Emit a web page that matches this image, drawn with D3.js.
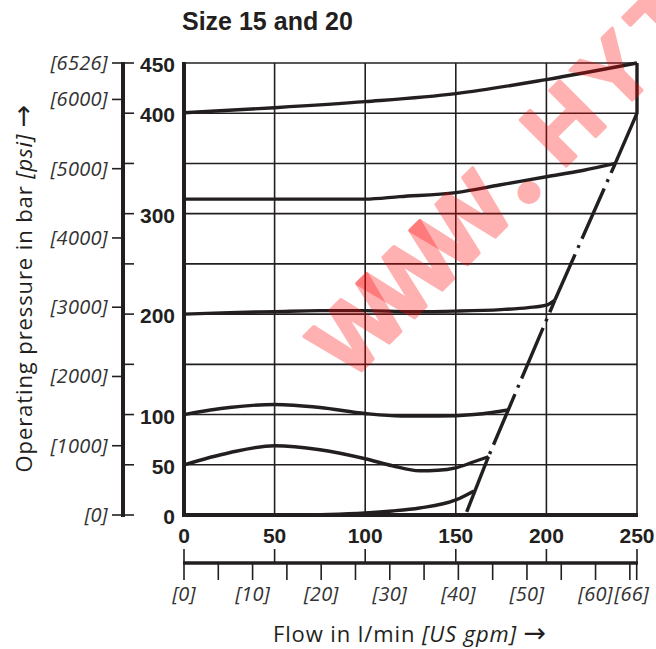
<!DOCTYPE html>
<html><head><meta charset="utf-8">
<script src="https://cdn.jsdelivr.net/npm/d3@7"></script>
<style>body{margin:0;background:#fff}svg{display:block}</style>
</head><body>
<svg id="chart" width="656" height="649"></svg>
<script>
const flowTicks = [0, 50, 100, 150, 200, 250];
const pressureTicks = [0, 50, 100, 150, 200, 250, 300, 350, 400, 450];
const pressureLabels = [0, 50, 100, 200, 300, 400, 450];
const psiTicks = [0, 1000, 2000, 3000, 4000, 5000, 6000, 6526];
const gpmTicks = [0, 5, 10, 15, 20, 25, 30, 35, 40, 45, 50, 55, 60, 65, 66];
const gpmLabels = [0, 10, 20, 30, 40, 50, 60, 66];

const curve0 = [[0,0],[60,0],[80,0.5],[100,2],[115,4],[130,7],[150,15],[160,24]];
const curve50 = [[0,50],[25,62],[50,69],[75,65],[100,56],[115,49],[130,44],[140,44.5],[150,47],[160,53],[168,58]];
const curve100 = [[0,100],[25,107],[50,110],[75,107],[100,101],[120,98.5],[140,98.5],[160,100],[170,102],[179,104.5]];
const curve200 = [[0,200],[25,201.5],[50,202.5],[75,203.5],[100,203.5],[125,202.5],[150,203],[175,204.5],[190,206.5],[200,209],[204.7,214]];
const curve315 = [[0,314.5],[100,314.5],[119,317],[150,321],[174,328.5],[200,336.8],[220,343],[238,350]];
const curve400 = [[0,400.5],[50,405.5],[100,411.5],[150,419.5],[200,433.5],[250,450]];
const limitSolidLow = [[156,3],[168,58]];
const limitDashLow = [[168,58],[204.7,214]];
const limitDashHigh = [[204.7,214],[238,350]];
const limitSolidHigh = [[238,350],[250,400],[250,450]];
const watermarkChars = ["W", "W", "W", "\u25CF", "H", "Y", "T"];

const INK = "#231f20";
const LPM_PER_GPM = 3.785411784;
const svg = d3.select("#chart");
const x = d3.scaleLinear().domain([0, 250]).range([184, 637]);
const y = d3.scaleLinear().domain([0, 450]).range([515, 63]);
const yPsi = d3.scaleLinear().domain([0, 6526]).range([515, 63]);
const xGpm = d3.scaleLinear().domain([0, 250 / LPM_PER_GPM]).range([184, 637]);

const BOLD = "'Liberation Sans', Arial, sans-serif";
const REG = "'Open Sans', 'Noto Sans', sans-serif";
const ARROW = "'DejaVu Sans', sans-serif";

// title
svg.append("text").attr("x", 182).attr("y", 30)
  .attr("font-family", BOLD).attr("font-weight", "bold").attr("font-size", 25)
  .attr("fill", INK).text("Size 15 and 20");

// grid
const grid = svg.append("g").attr("stroke", INK).attr("stroke-width", 1.6);
grid.selectAll(".v").data(flowTicks).join("line")
  .attr("x1", d => x(d)).attr("x2", d => x(d)).attr("y1", y(0)).attr("y2", y(450));
grid.selectAll(".h").data(pressureTicks).join("line")
  .attr("x1", x(0)).attr("x2", x(250)).attr("y1", d => y(d)).attr("y2", d => y(d));
// thick borders
svg.append("line").attr("x1", x(0)).attr("x2", x(0)).attr("y1", y(450) - 1).attr("y2", y(0) + 2)
  .attr("stroke", INK).attr("stroke-width", 4);
svg.append("line").attr("x1", x(0) - 2).attr("x2", x(250) + 1).attr("y1", y(0)).attr("y2", y(0))
  .attr("stroke", INK).attr("stroke-width", 4);

// curves
const line = d3.line().x(d => x(d[0])).y(d => y(d[1])).curve(d3.curveMonotoneX);
const lin = d3.line().x(d => x(d[0])).y(d => y(d[1]));
const curves = svg.append("g").attr("fill", "none").attr("stroke", INK).attr("stroke-width", 3.4)
  .attr("stroke-linejoin", "miter");
[curve0, curve50, curve100, curve200, curve315, curve400].forEach(c => {
  curves.append("path").attr("d", line(c));
});
curves.append("path").attr("d", lin(limitSolidLow));
curves.append("path").attr("d", lin(limitSolidHigh));
curves.append("path").attr("d", lin(limitDashLow))
  .attr("stroke-dasharray", "55 7 3 7").attr("stroke-dashoffset", 59);
curves.append("path").attr("d", lin(limitDashHigh))
  .attr("stroke-dasharray", "55 7 3 7").attr("stroke-dashoffset", 5);

// left axes
const AX = 123;
svg.append("line").attr("x1", AX).attr("x2", AX).attr("y1", y(450) - 1).attr("y2", y(0) + 2)
  .attr("stroke", INK).attr("stroke-width", 4);
svg.append("g").attr("stroke", INK).attr("stroke-width", 1.6)
  .selectAll("line").data(pressureTicks).join("line")
  .attr("x1", AX).attr("x2", 134).attr("y1", d => y(d)).attr("y2", d => y(d));
svg.append("g").attr("stroke", INK).attr("stroke-width", 1.6)
  .selectAll("line").data(psiTicks).join("line")
  .attr("x1", 112).attr("x2", AX).attr("y1", d => yPsi(d)).attr("y2", d => yPsi(d));
svg.append("g").selectAll("text").data(pressureLabels).join("text")
  .attr("x", 175).attr("y", d => y(d) + 9).attr("text-anchor", "end")
  .attr("font-family", BOLD).attr("font-weight", "bold").attr("font-size", 21)
  .attr("fill", INK).text(d => d);
svg.append("g").selectAll("text").data(psiTicks).join("text")
  .attr("x", 108).attr("y", d => yPsi(d) + 7).attr("text-anchor", "end")
  .attr("font-family", REG).attr("font-style", "italic").attr("font-size", 20)
  .attr("letter-spacing", 0.3).attr("fill", "#333").text(d => "[" + d + "]");

// bottom axis
const BY = 563;
svg.append("line").attr("x1", x(0) - 1).attr("x2", x(250) + 1).attr("y1", BY).attr("y2", BY)
  .attr("stroke", INK).attr("stroke-width", 3.5);
svg.append("g").attr("stroke", INK).attr("stroke-width", 1.6)
  .selectAll("line").data(flowTicks).join("line")
  .attr("x1", d => x(d)).attr("x2", d => x(d)).attr("y1", 549).attr("y2", BY);
svg.append("g").attr("stroke", INK).attr("stroke-width", 1.6)
  .selectAll("line").data(gpmTicks).join("line")
  .attr("x1", d => xGpm(d)).attr("x2", d => xGpm(d)).attr("y1", BY).attr("y2", 580);
svg.append("g").selectAll("text").data(flowTicks).join("text")
  .attr("x", d => x(d)).attr("y", 543).attr("text-anchor", "middle")
  .attr("font-family", BOLD).attr("font-weight", "bold").attr("font-size", 21)
  .attr("fill", INK).text(d => d);
svg.append("g").selectAll("text").data(gpmLabels).join("text")
  .attr("x", (d, i) => xGpm(d) - (i === gpmLabels.length - 1 ? 5 : 0)).attr("y", 601).attr("text-anchor", "middle")
  .attr("font-family", REG).attr("font-style", "italic").attr("font-size", 20)
  .attr("letter-spacing", 0.3).attr("fill", "#333").text(d => "[" + d + "]");

// axis titles
const xt = svg.append("text").attr("x", 410).attr("y", 642).attr("text-anchor", "middle")
  .attr("font-family", REG).attr("font-size", 22).attr("letter-spacing", 0.9).attr("fill", INK);
xt.append("tspan").text("Flow in l/min ");
xt.append("tspan").attr("font-style", "italic").text("[US gpm]");
xt.append("tspan").text(" ");
xt.append("tspan").attr("font-family", ARROW).attr("font-size", 27).text("\u2192");
const yt = svg.append("text").attr("transform", "translate(32,288) rotate(-90)").attr("text-anchor", "middle")
  .attr("font-family", REG).attr("font-size", 22).attr("letter-spacing", 0.9).attr("fill", INK);
yt.append("tspan").text("Operating pressure in bar ");
yt.append("tspan").attr("font-style", "italic").text("[psi]");
yt.append("tspan").text(" ");
yt.append("tspan").attr("font-family", ARROW).attr("font-size", 27).text("\u2192");

// watermark: one glyph per 75px cell along a 45° baseline, each glyph its own translucent layer
const wm = svg.append("g").attr("transform", "translate(349,383) rotate(-45)");
watermarkChars.forEach((ch, i) => {
  const isDot = ch === "\u25CF";
  const g = wm.append("g").attr("opacity", 0.3);
  g.append("text")
    .attr("x", isDot ? i * 75 + 37 : i * 75 + 1).attr("y", isDot ? -10 : 0)
    .attr("text-anchor", isDot ? "middle" : "start")
    .attr("dominant-baseline", isDot ? "central" : "auto")
    .attr("font-family", isDot ? ARROW : BOLD).attr("font-weight", isDot ? "normal" : "bold")
    .attr("font-size", isDot ? 30 : 94)
    .attr("fill", "#ff0000").attr("stroke", "#ff0000").attr("stroke-width", isDot ? 0 : 3.5)
    .attr("stroke-linejoin", "round").text(ch);
});
</script>
</body></html>
